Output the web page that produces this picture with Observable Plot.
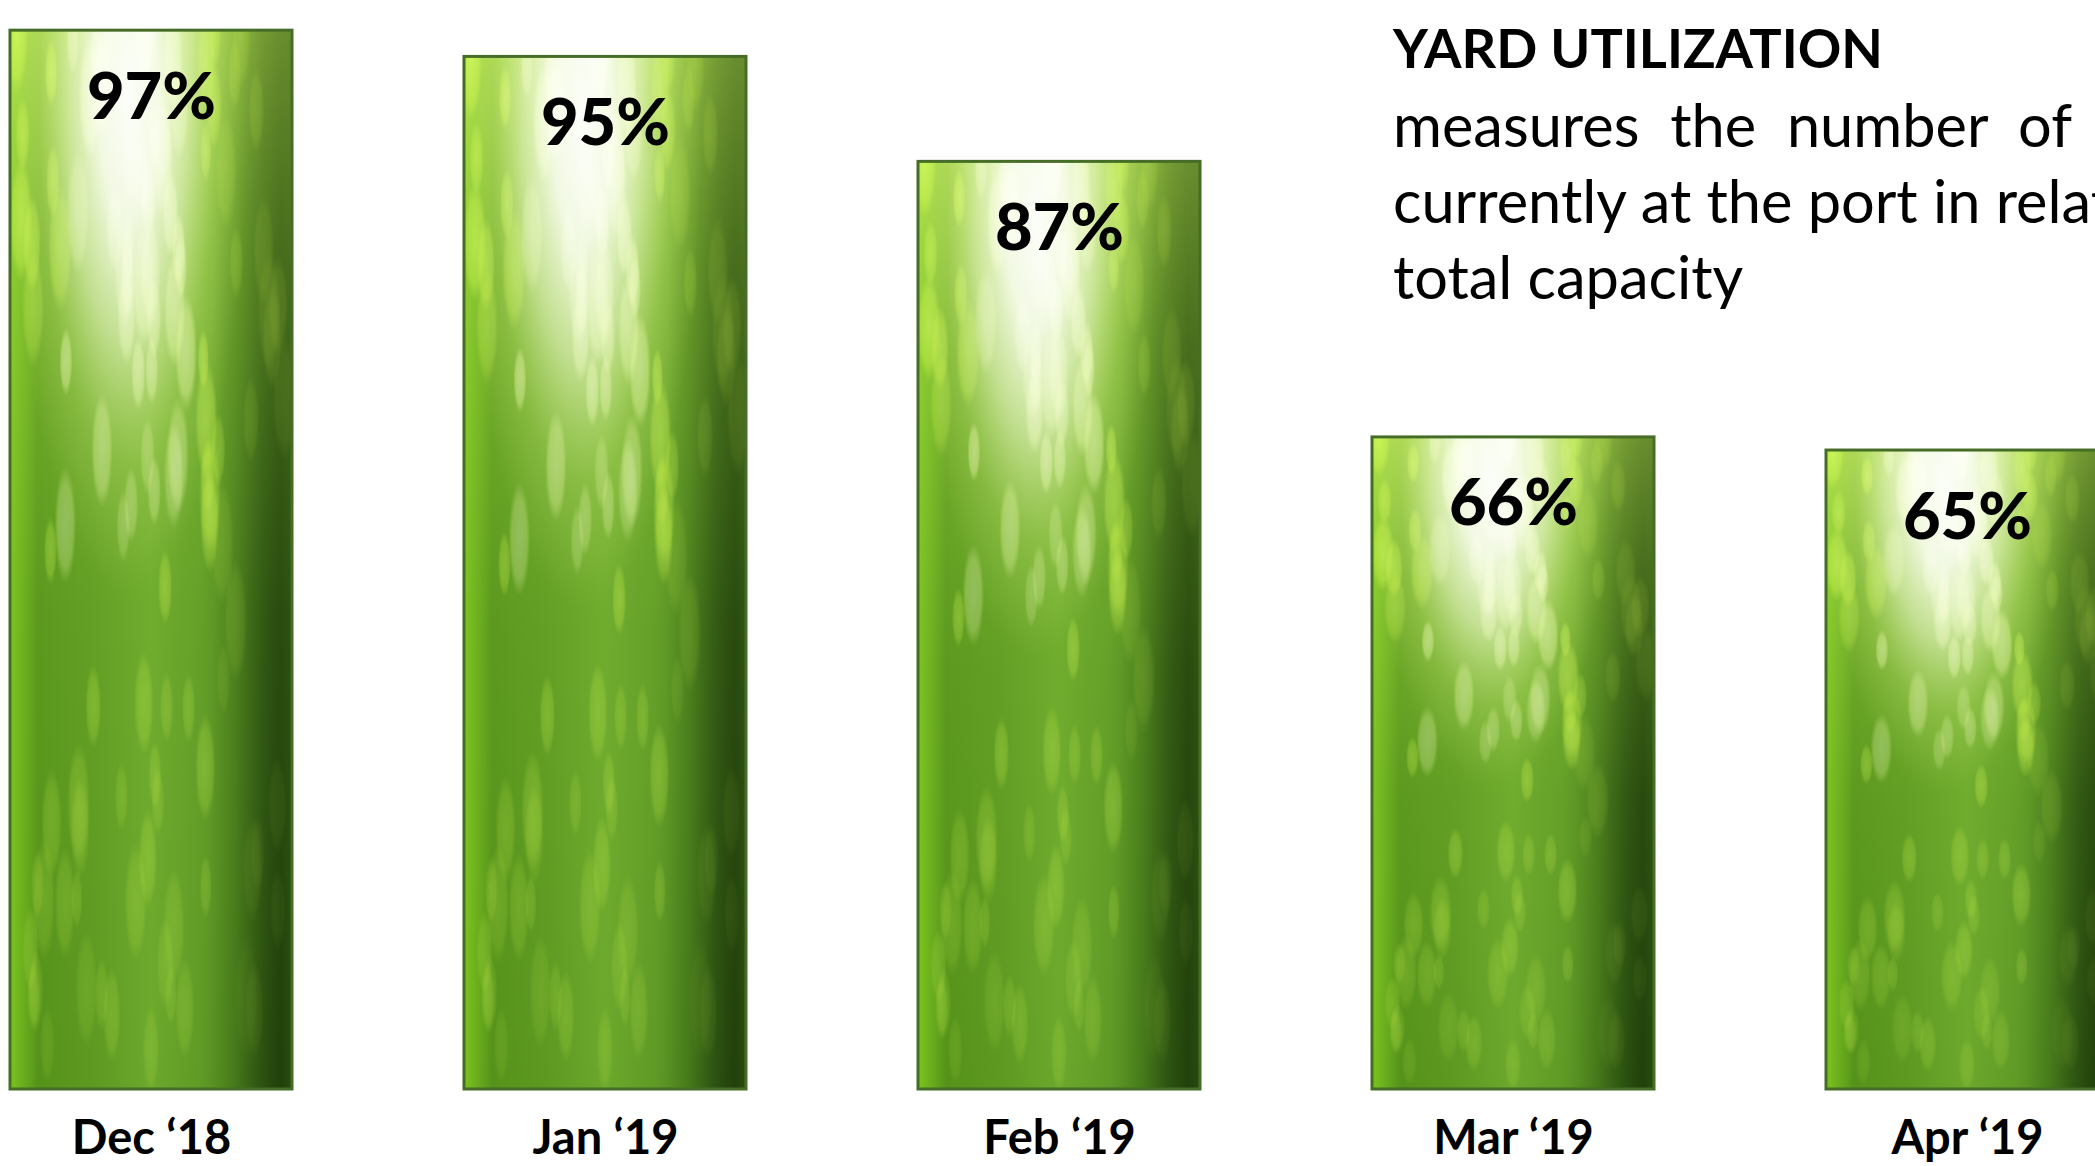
<!DOCTYPE html>
<html>
<head>
<meta charset="utf-8">
<script src="https://cdn.jsdelivr.net/npm/d3@7"></script>
<script src="https://cdn.jsdelivr.net/npm/@observablehq/plot@0.6"></script>
<style>
  html, body { margin: 0; padding: 0; background: #fff; }
  #wrap { position: relative; width: 2095px; height: 1166px; overflow: hidden; background: #fff; }
  #chart svg { display: block; }
  #note { position: absolute; left: 1393px; top: 10px; width: max-content; font-family: Lato, "Open Sans", sans-serif; color: #000; }
  #note .title { font-weight: 700; font-size: 54px; line-height: 76px; }
  #note .line { font-size: 59.5px; line-height: 76px; }
  #note .wide { word-spacing: 15.5px; }
</style>
</head>
<body>
<div id="wrap">
  <div id="chart"></div>
  <div id="note">
    <div class="title">YARD UTILIZATION</div>
    <div class="line wide">measures the number of containers</div>
    <div class="line">currently at the port in relation to</div>
    <div class="line">total capacity</div>
  </div>
</div>
<script>
// ---- data ----
const months = ["Dec ‘18", "Jan ‘19", "Feb ‘19", "Mar ‘19", "Apr ‘19"];
const utilization = [97, 95, 87, 66, 65];
const valueLabels = ["97%", "95%", "87%", "66%", "65%"];

const data = months.map((m, i) => ({month: m, value: utilization[i], label: valueLabels[i]}));

const chart = Plot.plot({
  width: 2095,
  height: 1166,
  marginTop: 0,
  marginBottom: 77,
  marginLeft: 0,
  marginRight: 0,
  style: {fontFamily: "Lato, 'Open Sans', sans-serif", background: "#fff", color: "#000"},
  x: {domain: months, range: [8, 2111], paddingInner: 0.378, paddingOuter: 0, label: null},
  y: {domain: [16.3, 99.3], clamp: true, axis: null},
  marks: [
    Plot.barY(data, {x: "month", y: "value", fill: "url(#barBase)"}),
    Plot.barY(data, {x: "month", y: "value", fill: "url(#barShade)"}),
    Plot.barY(data, {x: "month", y: "value", fill: "url(#barBokeh)"}),
    Plot.barY(data, {x: "month", y: "value", fill: "url(#barGlow)"}),
    Plot.barY(data, {x: "month", y: "value", fill: "url(#barEdge)"}),
    Plot.barY(data, {x: "month", y: "value", fill: "none", stroke: "#466d27", strokeWidth: 3}),
    Plot.text(data, {x: "month", y: "value", text: "label", lineAnchor: "bottom", dy: 88,
      fontSize: 65, fontWeight: 900, fill: "#000"}),
    Plot.axisX({tickSize: 0, tickPadding: 31, fontSize: 47, fontWeight: 700, fill: "#000", label: null})
  ]
});

document.getElementById("chart").appendChild(chart);

// ---- decorative fills (gradients + bokeh pattern) ----
const svg = d3.select(chart);
const defs = svg.insert("defs", ":first-child");

function stops(grad, list) {
  list.forEach(([o, c, a]) => grad.append("stop").attr("offset", o).attr("stop-color", c)
    .attr("stop-opacity", a === undefined ? 1 : a));
}

stops(defs.append("linearGradient").attr("id", "barBase")
  .attr("x1", 0).attr("x2", 1).attr("y1", 0).attr("y2", 0),
  [[0, "#7cc41c"], [0.04, "#6cb11e"], [0.1, "#55921a"], [0.3, "#5e9a22"], [0.5, "#6ca82c"],
   [0.68, "#5f9a26"], [0.8, "#4a801c"], [0.9, "#2f5612"], [0.96, "#22400c"], [1, "#2d5312"]]);

stops(defs.append("linearGradient").attr("id", "barShade")
  .attr("x1", 0).attr("x2", 0).attr("y1", 0).attr("y2", 1),
  [[0, "#c4ee5c", 0.7], [0.2, "#a8dc48", 0.45], [0.55, "#8cc83a", 0.12], [1, "#8cc83a", 0]]);

stops(defs.append("radialGradient").attr("id", "barGlow")
  .attr("cx", 0.42).attr("cy", 0.06).attr("r", 0.5)
  .attr("gradientTransform", "translate(0.42 0.06) scale(0.85 0.95) translate(-0.42 -0.06)"),
  [[0, "#ffffff", 0.97], [0.25, "#fdfff5", 0.9], [0.5, "#f2fcd0", 0.6], [0.75, "#d6f08a", 0.22], [1, "#d6f08a", 0]]);

// darken right edge slightly again over the glow
stops(defs.append("linearGradient").attr("id", "barEdge")
  .attr("x1", 0).attr("x2", 1).attr("y1", 0).attr("y2", 0),
  [[0, "#2a4d10", 0], [0.72, "#2a4d10", 0], [0.9, "#20400a", 0.3], [1, "#20400a", 0.4]]);

stops(defs.append("radialGradient").attr("id", "spotLime"),
  [[0, "#d8ff60", 1], [0.7, "#c8f24a", 0.85], [1, "#c8f24a", 0]]);
stops(defs.append("radialGradient").attr("id", "spotPale"),
  [[0, "#fbffe0", 1], [0.7, "#f0ffb0", 0.85], [1, "#f0ffb0", 0]]);

// bokeh texture: soft elongated spots laid out per bar (bounding-box units), fixed-seed sequence
const pat = defs.append("pattern").attr("id", "barBokeh")
  .attr("patternUnits", "objectBoundingBox").attr("patternContentUnits", "objectBoundingBox")
  .attr("x", 0).attr("y", 0).attr("width", 1).attr("height", 1);
const rnd = d3.randomLcg(0.2718);
for (let i = 0; i < 110; i++) {
  const cx = 0.02 + rnd() * 0.96;
  const cy = Math.pow(rnd(), 1.35) * 0.99;
  const s = rnd();
  const rx = 0.02 + s * 0.022;
  const ry = 0.028 + s * 0.032;
  const central = Math.abs(cx - 0.42) < 0.24 && cy < 0.5;
  const rightFade = cx > 0.75 ? 0.5 : 1;
  const op = (0.18 + 0.5 * Math.pow(1 - cy, 1.5)) * rightFade * (0.6 + 0.4 * rnd());
  pat.append("ellipse").attr("cx", cx).attr("cy", cy).attr("rx", rx).attr("ry", ry)
    .attr("fill", central ? "url(#spotPale)" : "url(#spotLime)").attr("fill-opacity", op);
}
</script>
</body>
</html>
